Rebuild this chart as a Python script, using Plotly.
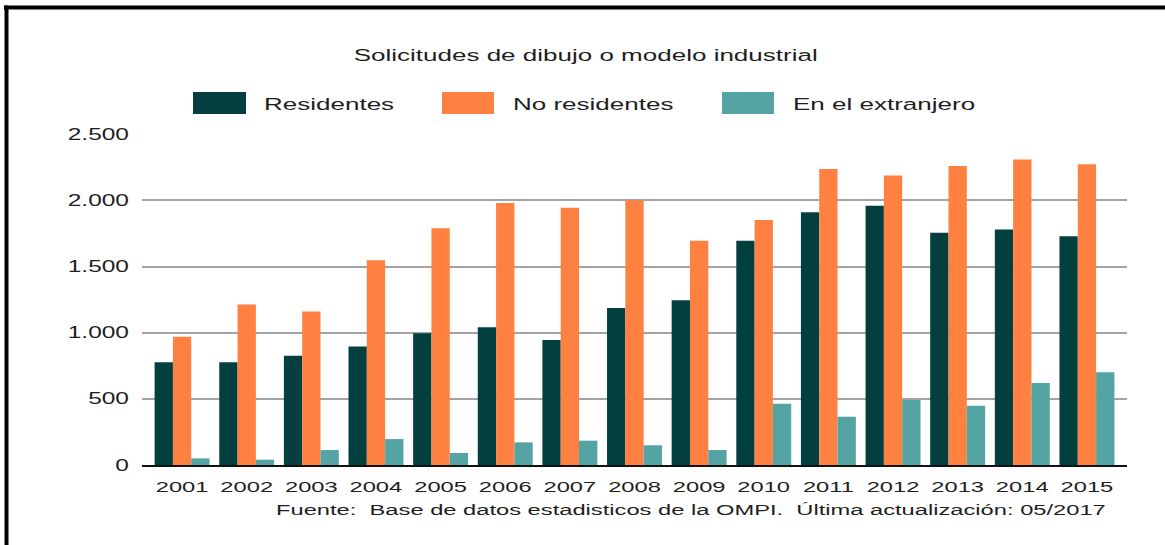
import plotly.graph_objects as go

years = ["2001", "2002", "2003", "2004", "2005", "2006", "2007", "2008",
         "2009", "2010", "2011", "2012", "2013", "2014", "2015"]
residentes = [776, 776, 826, 896, 995, 1042, 944, 1186, 1246, 1695, 1911, 1959, 1755, 1780, 1730]
no_residentes = [969, 1214, 1161, 1548, 1790, 1981, 1944, 2001, 1695, 1851, 2238, 2188, 2261, 2309, 2273]
extranjero = [50, 40, 113, 196, 91, 171, 184, 149, 113, 463, 365, 491, 448, 619, 702]
y_ticks = [0, 500, 1000, 1500, 2000, 2500]

series_names = ["Residentes", "No residentes", "En el extranjero"]
colors = ["#033F3F", "#FF8142", "#54A4A4"]
title_text = "Solicitudes de dibujo o modelo industrial"
source_text = "Fuente:  Base de datos estadisticos de la OMPI.  Última actualización: 05/2017"

W, H = 1165, 545
L, R, T, B = 142, 1127, 134, 465
FONT = "Liberation Sans, Arial, sans-serif"
TXT = "#1e1e1e"


def px(x):
    return (x - L) / (R - L)


def py(y):
    return (B - y) / (B - T)


fig = go.Figure()
for name, vals, col in zip(series_names, [residentes, no_residentes, extranjero], colors):
    fig.add_trace(go.Bar(x=years, y=vals, name=name, marker=dict(color=col, line=dict(width=0)),
                         showlegend=False, hoverinfo="skip"))

shapes = []
annotations = []

# custom legend
legend_pos = [(193, 246, 262), (442, 494, 511), (722, 774, 791)]
for (x0, x1, tx), name, col in zip(legend_pos, series_names, colors):
    shapes.append(dict(type="rect", xref="paper", yref="paper", x0=px(x0), x1=px(x1),
                       y0=py(114), y1=py(92), fillcolor=col, line=dict(width=0)))
    annotations.append(dict(text=name, xref="paper", yref="paper", x=px(tx), y=py(104),
                            xanchor="left", yanchor="middle", align="left", showarrow=False,
                            font=dict(family=FONT, size=17, color=TXT)))

# title
annotations.append(dict(text=title_text, xref="paper", yref="paper", x=px(585), y=py(55),
                        xanchor="center", yanchor="middle", align="center", showarrow=False,
                        font=dict(family=FONT, size=17, color=TXT)))
# source
annotations.append(dict(text=source_text, xref="paper", yref="paper", x=px(1108), y=py(509),
                        xanchor="right", yanchor="middle", align="right", showarrow=False,
                        font=dict(family=FONT, size=15.5, color=TXT)))

# frame (top and left edges)
shapes.append(dict(type="line", xref="paper", yref="paper", x0=px(4), x1=px(1165),
                   y0=py(7.5), y1=py(7.5), line=dict(color="black", width=4)))
shapes.append(dict(type="line", xref="paper", yref="paper", x0=px(6.5), x1=px(6.5),
                   y0=py(5.5), y1=py(545), line=dict(color="black", width=4)))

fig.update_layout(
    width=W, height=H,
    margin=dict(l=L, r=W - R, t=T, b=H - B, pad=0),
    paper_bgcolor="white", plot_bgcolor="white",
    barmode="group", bargap=0.15, bargroupgap=0,
    separators=",.",
    showlegend=False,
    hovermode=False,
    shapes=shapes, annotations=annotations,
    font=dict(family=FONT, size=16, color=TXT),
)
fig.update_xaxes(type="category", range=[-0.62, 14.62], showgrid=False,
                 showline=True, linecolor="#111111", linewidth=2, ticks="",
                 ticklabelstandoff=6, tickfont=dict(family=FONT, size=15.5, color=TXT))
fig.update_yaxes(range=[0, 2502], tickvals=y_ticks, tickformat=",d",
                 showgrid=True, gridcolor="#a3a3a3", gridwidth=2,
                 zeroline=False, showline=False, ticks="",
                 ticklabelstandoff=12, tickfont=dict(family=FONT, size=16, color=TXT))

# horizontal stretch of the text glyphs, as in the reference image
post = """
document.body.style.margin = '0';
var gd = document.getElementById('{plot_id}');
gd.querySelectorAll('text').forEach(function (t) {
  if (t.getAttribute('data-sx')) return;
  var b = t.getBBox();
  if (!b.width) return;
  var a = t.getAttribute('text-anchor') || 'start';
  var ax = a === 'middle' ? b.x + b.width / 2 : (a === 'end' ? b.x + b.width : b.x);
  var tr = t.getAttribute('transform') || '';
  t.setAttribute('transform', tr + ' translate(' + ax + ',0) scale(1.53,1) translate(' + (-ax) + ',0)');
  t.setAttribute('data-sx', '1');
});
"""

fig.write_html("out.html", post_script=post, config={"displayModeBar": False})
